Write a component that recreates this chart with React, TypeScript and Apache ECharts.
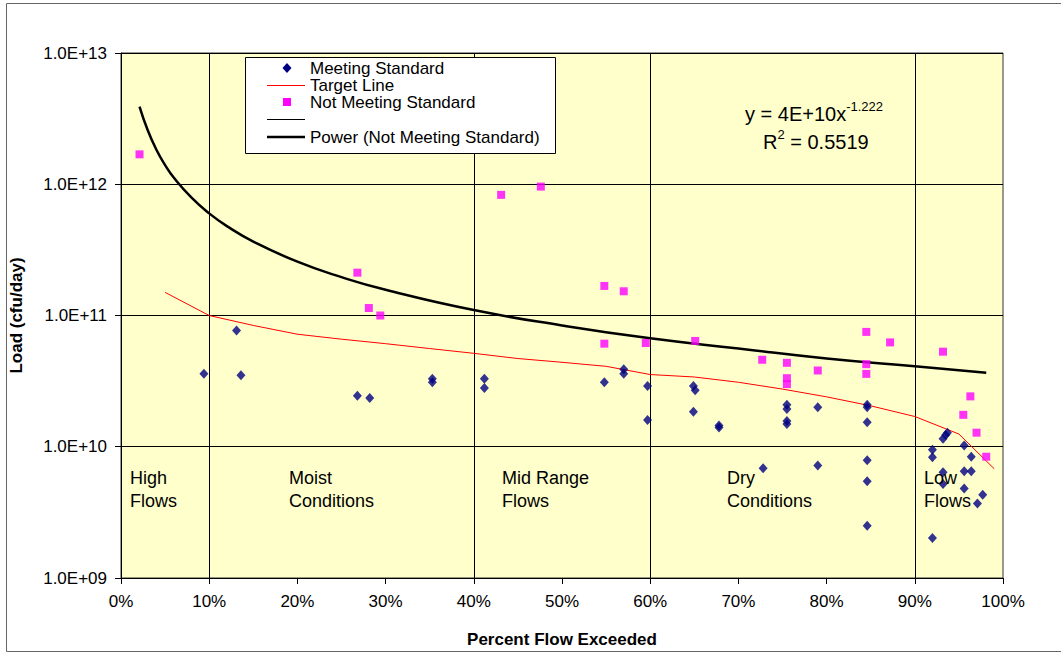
import React, { useEffect, useRef } from 'react';
import * as echarts from 'echarts';

// Meeting Standard (percent flow exceeded, load cfu/day)
const meetX = [9.4, 13.1, 13.6, 26.8, 28.2, 35.3, 35.3, 41.2, 41.2, 54.8, 57.0, 57.0, 59.7, 59.7, 64.9, 65.1, 64.9, 67.8, 67.8, 72.8, 75.5, 75.5, 75.5, 75.5, 79.0, 79.0, 84.6, 84.6, 84.6, 84.6, 84.6, 84.6, 92.0, 92.0, 92.0, 93.2, 93.5, 93.7, 93.2, 93.2, 95.6, 95.6, 95.6, 96.4, 96.4, 97.7, 97.1];
const meetY = [3.6e10, 7.7e10, 3.5e10, 2.45e10, 2.35e10, 3.3e10, 3.1e10, 3.3e10, 2.8e10, 3.1e10, 3.9e10, 3.6e10, 2.9e10, 1.6e10, 2.9e10, 2.7e10, 1.85e10, 1.45e10, 1.4e10, 6.85e9, 2.09e10, 1.94e10, 1.57e10, 1.49e10, 2.0e10, 7.2e9, 2.09e10, 2.0e10, 1.54e10, 7.9e9, 5.46e9, 2.5e9, 9.5e9, 8.3e9, 2.02e9, 1.15e10, 1.23e10, 1.28e10, 6.4e9, 5.2e9, 1.02e10, 6.5e9, 4.8e9, 8.4e9, 6.5e9, 4.3e9, 3.7e9];

// Not Meeting Standard
const notX = [2.1, 26.8, 28.1, 29.4, 43.1, 47.6, 54.8, 57.0, 54.8, 59.5, 65.1, 72.7, 75.5, 75.5, 75.5, 79.0, 84.5, 84.5, 84.5, 87.2, 93.2, 96.3, 95.5, 97.0, 98.1];
const notY = [1.69e12, 2.12e11, 1.14e11, 1.0e11, 8.3e11, 9.6e11, 1.68e11, 1.53e11, 6.1e10, 6.17e10, 6.4e10, 4.6e10, 4.36e10, 3.33e10, 3.0e10, 3.81e10, 7.5e10, 4.26e10, 3.59e10, 6.24e10, 5.3e10, 2.42e10, 1.75e10, 1.28e10, 8.4e9];

// Target Line
const targetX = [5, 10, 15, 20, 25, 30, 35, 40, 45, 50, 55, 60, 65, 70, 75, 80, 85, 90, 95, 99];
const targetY = [1.5e11, 1.0e11, 8.4e10, 7.2e10, 6.6e10, 6.1e10, 5.6e10, 5.15e10, 4.7e10, 4.4e10, 4.1e10, 3.55e10, 3.4e10, 3.1e10, 2.75e10, 2.4e10, 2.05e10, 1.7e10, 1.25e10, 6.8e9];

// Power (Not Meeting Standard) trendline
const powerX = [2.1, 3, 4, 5, 6, 8, 10, 12, 15, 20, 25, 30, 40, 50, 60, 70, 80, 90, 98.1];
const powerY = [3.9e12, 2.61e12, 1.84e12, 1.4e12, 1.12e12, 7.9e11, 6.0e11, 4.8e11, 3.66e11, 2.57e11, 1.96e11, 1.57e11, 1.1e11, 8.4e10, 6.7e10, 5.6e10, 4.7e10, 4.1e10, 3.67e10];

const regionLines = [10, 40, 60, 90];
const regionLabels = ['High\nFlows', 'Moist\nConditions', 'Mid Range\nFlows', 'Dry\nConditions', 'Low\nFlows'];
const regionLabelX = [130, 289, 502, 727, 924];

const legendNames = ['Meeting Standard', 'Target Line', 'Not Meeting Standard', ' ', 'Power (Not Meeting Standard)'];

const FONT = "'Liberation Sans', Arial, sans-serif";

const zip = (xs: number[], ys: number[]) => xs.map((x, i) => [x, ys[i]]);

function legendGraphics() {
  const left = 245.5, top = 57.5, w = 310, h = 96;
  const rowY = [68, 85, 102, 119, 137];
  const ix0 = 267, ix1 = 305, icx = 287, tx = 310;
  const els: any[] = [
    { type: 'rect', shape: { x: left, y: top, width: w, height: h }, style: { fill: '#fff', stroke: '#000', lineWidth: 1 }, z: 20 },
    { type: 'polygon', shape: { points: [[icx, rowY[0] - 5], [icx + 4.5, rowY[0]], [icx, rowY[0] + 5], [icx - 4.5, rowY[0]]] }, style: { fill: '#000080' }, z: 21 },
    { type: 'line', shape: { x1: ix0, y1: rowY[1] + 0.5, x2: ix1, y2: rowY[1] + 0.5 }, style: { stroke: '#FF0000', lineWidth: 1 }, z: 21 },
    { type: 'rect', shape: { x: icx - 4, y: rowY[2] - 4, width: 8, height: 8 }, style: { fill: '#FF00FF' }, z: 21 },
    { type: 'line', shape: { x1: ix0, y1: rowY[3] + 0.5, x2: ix1, y2: rowY[3] + 0.5 }, style: { stroke: '#000', lineWidth: 1 }, z: 21 },
    { type: 'line', shape: { x1: ix0, y1: rowY[4], x2: ix1, y2: rowY[4] }, style: { stroke: '#000', lineWidth: 2.5 }, z: 21 },
  ];
  legendNames.forEach((n, i) => {
    els.push({ type: 'text', x: tx, y: rowY[i], style: { text: n, fontSize: 17, fontFamily: FONT, fill: '#000', verticalAlign: 'middle' }, z: 21 });
  });
  return els;
}

export default function App() {
  const ref = useRef<HTMLDivElement>(null);
  useEffect(() => {
    document.body.style.margin = '0';
    const chart = echarts.init(ref.current!, null, { renderer: 'svg' });
    chart.setOption({
      animation: false,
      backgroundColor: '#ffffff',
      textStyle: { fontFamily: FONT },
      grid: {
        left: 118, top: 53, right: 58, bottom: 72,
        show: true, backgroundColor: '#FFFFCC', borderColor: '#333', borderWidth: 1,
      },
      xAxis: {
        type: 'value', min: 0, max: 100, interval: 10,
        name: 'Percent Flow Exceeded', nameLocation: 'middle', nameGap: 53,
        nameTextStyle: { fontSize: 17, fontWeight: 'bold', color: '#000', fontFamily: FONT },
        axisLine: { lineStyle: { color: '#000', width: 1 } },
        axisTick: { show: true, inside: false, length: 6, lineStyle: { color: '#000' } },
        axisLabel: { formatter: (v: number) => `${v}%`, fontSize: 17, color: '#000', margin: 15, fontFamily: FONT },
        splitLine: { show: false },
      },
      yAxis: {
        type: 'log', logBase: 10, min: 1e9, max: 1e13,
        name: 'Load (cfu/day)', nameLocation: 'middle', nameGap: 96, nameRotate: 90,
        nameTextStyle: { fontSize: 17, fontWeight: 'bold', color: '#000', fontFamily: FONT },
        axisLine: { show: true, lineStyle: { color: '#000', width: 1 } },
        axisTick: { show: true, inside: false, length: 6, lineStyle: { color: '#000' } },
        axisLabel: {
          fontSize: 17, color: '#000', margin: 14, fontFamily: FONT,
          formatter: (v: number) => {
            const e = Math.round(Math.log10(v));
            return `1.0E+${e < 10 ? '0' + e : e}`;
          },
        },
        splitLine: { show: true, lineStyle: { color: '#000', width: 1 } },
      },
      series: [
        {
          name: 'Meeting Standard', type: 'scatter', symbol: 'diamond', symbolSize: [9, 10],
          itemStyle: { color: '#000080' }, data: zip(meetX, meetY), z: 4,
        },
        {
          name: 'Target Line', type: 'line', symbol: 'none', showSymbol: false,
          lineStyle: { color: '#FF0000', width: 1 }, itemStyle: { color: '#FF0000' },
          data: zip(targetX, targetY), z: 3,
          markLine: {
            silent: true, symbol: ['none', 'none'], label: { show: false },
            lineStyle: { color: '#000', type: 'solid', width: 1 },
            data: regionLines.map((v) => ({ xAxis: v })),
            z: 1,
          },
        },
        {
          name: 'Not Meeting Standard', type: 'scatter', symbol: 'rect', symbolSize: 8,
          itemStyle: { color: '#FF00FF' }, data: zip(notX, notY), z: 4,
        },
        {
          name: ' ', type: 'line', symbol: 'none', showSymbol: false,
          lineStyle: { color: '#000', width: 1 }, itemStyle: { color: '#000' }, data: [],
        },
        {
          name: 'Power (Not Meeting Standard)', type: 'line', symbol: 'none', showSymbol: false,
          smooth: true,
          lineStyle: { color: '#000', width: 2.5 }, itemStyle: { color: '#000' },
          data: zip(powerX, powerY), z: 3,
        },
      ],
      graphic: [
        {
          type: 'rect', shape: { x: 6.5, y: 3.5, width: 1060, height: 648 },
          style: { fill: 'none', stroke: '#666', lineWidth: 1 }, silent: true, z: -1,
        },
        {
          type: 'text', x: 745, y: 100,
          style: {
            text: '{m|y = 4E+10x}{s|-1.222}', fontFamily: FONT, fill: '#000',
            rich: {
              m: { fontSize: 20, lineHeight: 24, fontFamily: FONT, fill: '#000', verticalAlign: 'bottom' },
              s: { fontSize: 13, lineHeight: 14, fontFamily: FONT, fill: '#000', verticalAlign: 'top' },
            },
          },
          z: 10,
        },
        {
          type: 'text', x: 763, y: 128,
          style: {
            text: '{m|R}{s|2}{m| = 0.5519}', fontFamily: FONT, fill: '#000',
            rich: {
              m: { fontSize: 20, lineHeight: 24, fontFamily: FONT, fill: '#000', verticalAlign: 'bottom' },
              s: { fontSize: 13, lineHeight: 14, fontFamily: FONT, fill: '#000', verticalAlign: 'top' },
            },
          },
          z: 10,
        },
        ...regionLabels.map((t, i) => ({
          type: 'text', x: regionLabelX[i], y: 466,
          style: { text: t, fontSize: 18, lineHeight: 23, fontFamily: FONT, fill: '#000' },
          z: 10,
        })),
        ...legendGraphics(),
      ],
    });
    return () => chart.dispose();
  }, []);
  return <div ref={ref} style={{ position: 'absolute', left: 0, top: 0, width: 1061, height: 653, background: '#fff' }} />;
}
